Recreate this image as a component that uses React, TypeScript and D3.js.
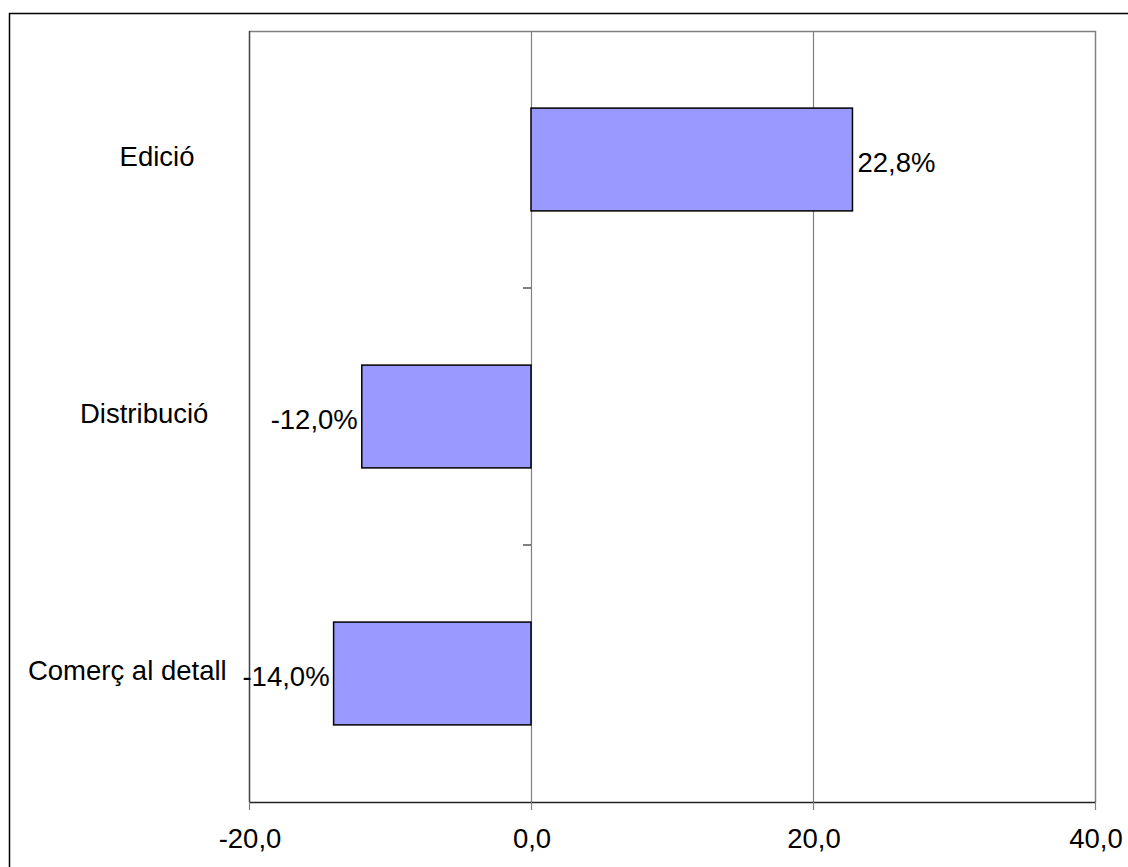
import React, { useEffect, useRef } from "react";
import * as d3 from "d3";

const categories = ["Edició", "Distribució", "Comerç al detall"];
const values = [22.8, -12.0, -14.0];
const xTicks = [-20, 0, 20, 40];
const xDomain = [-20, 40];

const W = 1128;
const H = 867;
const FONT = "'Liberation Sans', Arial, Helvetica, sans-serif";
const FS = 27.5;

export default function App() {
  const ref = useRef<SVGSVGElement | null>(null);

  useEffect(() => {
    const svg = d3.select(ref.current);
    svg.selectAll("*").remove();

    const left = 249, right = 1095, top = 31, bottom = 802;
    const x = d3.scaleLinear().domain(xDomain).range([left, right]);
    const y = d3
      .scaleBand<string>()
      .domain(categories)
      .range([top, bottom])
      .paddingInner(0.6)
      .paddingOuter(0.3);
    const step = y.step();
    const bw = y.bandwidth();

    const locale = d3.formatLocale({
      decimal: ",",
      thousands: ".",
      grouping: [3],
      currency: ["", "€"],
      minus: "-",
    });
    const fmt = locale.format(".1f");

    svg.append("rect").attr("x", 0).attr("y", 0).attr("width", W).attr("height", H).attr("fill", "#fff");

    // outer chart border (extends beyond right/bottom edge)
    svg
      .append("rect")
      .attr("x", 9.5)
      .attr("y", 13.5)
      .attr("width", W + 50)
      .attr("height", H + 50)
      .attr("fill", "none")
      .attr("stroke", "#000")
      .attr("stroke-width", 1.5);

    // plot area top/right border
    svg
      .append("path")
      .attr("d", `M${left},${top + 0.5}H${right + 0.5}V${bottom}`)
      .attr("fill", "none")
      .attr("stroke", "#808080")
      .attr("stroke-width", 1.5);

    // vertical gridlines
    svg
      .selectAll("line.grid")
      .data(xTicks.filter((t) => t !== xDomain[0] && t !== xDomain[1]))
      .enter()
      .append("line")
      .attr("x1", (d) => Math.round(x(d)) + 0.5)
      .attr("x2", (d) => Math.round(x(d)) + 0.5)
      .attr("y1", top)
      .attr("y2", bottom)
      .attr("stroke", "#808080")
      .attr("stroke-width", 1.2);

    // left plot border
    svg
      .append("line")
      .attr("x1", left + 0.5)
      .attr("x2", left + 0.5)
      .attr("y1", top)
      .attr("y2", bottom)
      .attr("stroke", "#404040")
      .attr("stroke-width", 1.5);

    // bars
    svg
      .selectAll("rect.bar")
      .data(values)
      .enter()
      .append("rect")
      .attr("x", (d) => x(Math.min(0, d)))
      .attr("y", (_, i) => y(categories[i])!)
      .attr("width", (d) => Math.abs(x(d) - x(0)))
      .attr("height", bw)
      .attr("fill", "#9999FF")
      .attr("stroke", "#000")
      .attr("stroke-width", 1.5);

    // category axis ticks (at zero line, between categories)
    svg
      .selectAll("line.ctick")
      .data(categories.slice(0, -1))
      .enter()
      .append("line")
      .attr("x1", x(0) - 8)
      .attr("x2", x(0))
      .attr("y1", (c) => y(c)! + bw + (step - bw) / 2)
      .attr("y2", (c) => y(c)! + bw + (step - bw) / 2)
      .attr("stroke", "#000")
      .attr("stroke-width", 1);

    // bottom axis line
    svg
      .append("line")
      .attr("x1", left)
      .attr("x2", right + 1)
      .attr("y1", bottom + 0.5)
      .attr("y2", bottom + 0.5)
      .attr("stroke", "#222")
      .attr("stroke-width", 1.5);

    // x ticks
    svg
      .selectAll("line.xtick")
      .data(xTicks)
      .enter()
      .append("line")
      .attr("x1", (d) => Math.round(x(d)) + 0.5)
      .attr("x2", (d) => Math.round(x(d)) + 0.5)
      .attr("y1", bottom)
      .attr("y2", bottom + 8)
      .attr("stroke", "#808080")
      .attr("stroke-width", 1.2);

    // x tick labels
    svg
      .selectAll("text.xlab")
      .data(xTicks)
      .enter()
      .append("text")
      .attr("x", (d) => x(d) + 1)
      .attr("y", 848)
      .attr("text-anchor", "middle")
      .attr("font-family", FONT)
      .attr("font-size", FS)
      .attr("fill", "#000")
      .text((d) => fmt(d));

    // category labels
    const catLabels = svg
      .selectAll("text.cat")
      .data(categories)
      .enter()
      .append("text")
      .attr("y", (c) => y(c)! + bw / 2 + 6)
      .attr("text-anchor", "middle")
      .attr("font-family", FONT)
      .attr("font-size", FS)
      .attr("fill", "#000")
      .text((c) => c);
    catLabels.each(function () {
      const node = this as SVGTextElement;
      const w = node.getComputedTextLength();
      d3.select(node).attr("x", 175 - 0.24 * w);
    });

    // value labels
    svg
      .selectAll("text.val")
      .data(values)
      .enter()
      .append("text")
      .attr("x", (d) => (d >= 0 ? x(d) + 5 : x(d) - 4))
      .attr("y", (_, i) => y(categories[i])! + bw / 2 + 12)
      .attr("text-anchor", (d) => (d >= 0 ? "start" : "end"))
      .attr("font-family", FONT)
      .attr("font-size", FS)
      .attr("fill", "#000")
      .text((d) => fmt(d) + "%");
  }, []);

  return (
    <svg
      ref={ref}
      width={W}
      height={H}
      style={{ position: "absolute", left: 0, top: 0, display: "block" }}
    />
  );
}
